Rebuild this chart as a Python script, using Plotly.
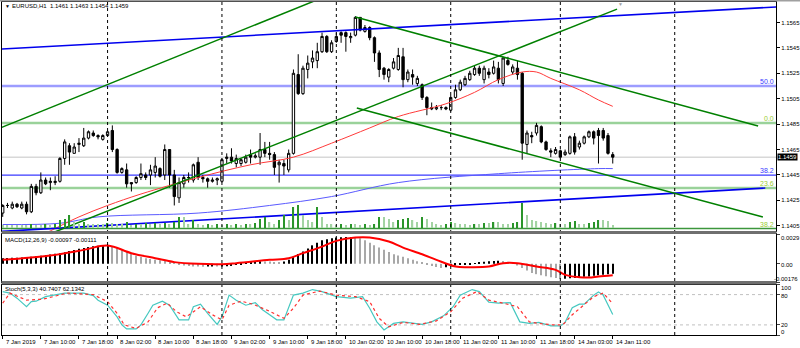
import plotly.graph_objects as go

W, H = 800, 348

# ---------------- EURUSD H1, bars from 7 Jan 2019 02:00 (bar index 0) ----------------
opens = [1.1415, 1.1421, 1.1419, 1.1422, 1.1419, 1.1422, 1.1416, 1.1436, 1.1431, 1.1441,
         1.1439, 1.1439, 1.1440, 1.1458, 1.1468, 1.1462, 1.1469, 1.1468, 1.1474, 1.1478,
         1.1476, 1.1473, 1.1476, 1.1480, 1.1465, 1.1447, 1.1449, 1.1439, 1.1439, 1.1443,
         1.1445, 1.1445, 1.1447, 1.1450, 1.1445, 1.1465, 1.1445, 1.1427, 1.1438, 1.1443,
         1.1441, 1.1455, 1.1443, 1.1442, 1.1440, 1.1441, 1.1440, 1.1458, 1.1459, 1.1454,
         1.1454, 1.1455, 1.1461, 1.1459, 1.1459, 1.1465, 1.1462, 1.1461, 1.1453, 1.1454,
         1.1449, 1.1462, 1.1524, 1.1509, 1.1528, 1.1534, 1.1535, 1.1542, 1.1554, 1.1542,
         1.1550, 1.1557, 1.1557, 1.1553, 1.1555, 1.1569, 1.1558, 1.1561, 1.1553, 1.1541,
         1.1529, 1.1522, 1.1529, 1.1528, 1.1538, 1.1520, 1.1524, 1.1517, 1.1516, 1.1506,
         1.1498, 1.1497, 1.1498, 1.1498, 1.1496, 1.1506, 1.1512, 1.1516, 1.1520, 1.1524,
         1.1529, 1.1520, 1.1526, 1.1525, 1.1529, 1.1517, 1.1535, 1.1526, 1.1529, 1.1525,
         1.1469, 1.1476, 1.1478, 1.1483, 1.1471, 1.1464, 1.1462, 1.1464, 1.1461, 1.1462,
         1.1475, 1.1467, 1.1470, 1.1475, 1.1479, 1.1480, 1.1480, 1.1476, 1.1461]
highs = [1.1422, 1.1423, 1.1424, 1.1423, 1.1424, 1.1424, 1.1438, 1.1438, 1.1447, 1.1443,
         1.1443, 1.1444, 1.1459, 1.1473, 1.1470, 1.1470, 1.1474, 1.1482, 1.1480, 1.1480,
         1.1477, 1.1477, 1.1480, 1.1484, 1.1466, 1.1451, 1.1454, 1.1439, 1.1444, 1.1454,
         1.1447, 1.1453, 1.1459, 1.1451, 1.1469, 1.1465, 1.1449, 1.1443, 1.1445, 1.1447,
         1.1454, 1.1459, 1.1445, 1.1443, 1.1443, 1.1443, 1.1458, 1.1462, 1.1466, 1.1461,
         1.1458, 1.1461, 1.1465, 1.1462, 1.1478, 1.1471, 1.1471, 1.1463, 1.1457, 1.1457,
         1.1465, 1.1528, 1.1540, 1.1531, 1.1539, 1.1543, 1.1549, 1.1557, 1.1555, 1.1551,
         1.1557, 1.1558, 1.1558, 1.1557, 1.1570, 1.1569, 1.1563, 1.1562, 1.1554, 1.1543,
         1.1530, 1.1529, 1.1537, 1.1545, 1.1545, 1.1528, 1.1528, 1.1523, 1.1517, 1.1507,
         1.1502, 1.1500, 1.1500, 1.1499, 1.1508, 1.1516, 1.1520, 1.1523, 1.1527, 1.1531,
         1.1531, 1.1531, 1.1529, 1.1535, 1.1534, 1.1538, 1.1538, 1.1532, 1.1535, 1.1526,
         1.1480, 1.1479, 1.1486, 1.1484, 1.1472, 1.1466, 1.1467, 1.1465, 1.1465, 1.1476,
         1.1478, 1.1472, 1.1476, 1.1480, 1.1480, 1.1482, 1.1482, 1.1478, 1.1463]
lows = [1.1412, 1.1419, 1.1418, 1.1419, 1.1418, 1.1414, 1.1415, 1.1429, 1.1430, 1.1437,
        1.1433, 1.1437, 1.1439, 1.1453, 1.1453, 1.1462, 1.1463, 1.1467, 1.1473, 1.1475,
        1.1473, 1.1472, 1.1475, 1.1463, 1.1446, 1.1446, 1.1435, 1.1432, 1.1438, 1.1441,
        1.1441, 1.1437, 1.1443, 1.1443, 1.1441, 1.1435, 1.1421, 1.1423, 1.1435, 1.1439,
        1.1439, 1.1441, 1.1439, 1.1435, 1.1439, 1.1437, 1.1439, 1.1454, 1.1454, 1.1451,
        1.1452, 1.1454, 1.1454, 1.1458, 1.1453, 1.1459, 1.1457, 1.1445, 1.1439, 1.1445,
        1.1447, 1.1461, 1.1508, 1.1508, 1.1521, 1.1529, 1.1529, 1.1541, 1.1541, 1.1541,
        1.1549, 1.1549, 1.1542, 1.1549, 1.1554, 1.1558, 1.1557, 1.1551, 1.1534, 1.1522,
        1.1520, 1.1518, 1.1528, 1.1527, 1.1514, 1.1518, 1.1516, 1.1515, 1.1504, 1.1492,
        1.1496, 1.1496, 1.1496, 1.1496, 1.1495, 1.1505, 1.1511, 1.1515, 1.1519, 1.1523,
        1.1523, 1.1517, 1.1521, 1.1524, 1.1517, 1.1515, 1.1531, 1.1524, 1.1520, 1.1457,
        1.1462, 1.1470, 1.1476, 1.1470, 1.1464, 1.1459, 1.1461, 1.1458, 1.1460, 1.1461,
        1.1461, 1.1465, 1.1469, 1.1474, 1.1469, 1.1454, 1.1472, 1.1461, 1.1454]
closes = [1.1421, 1.1421, 1.1422, 1.1420, 1.1422, 1.1416, 1.1436, 1.1431, 1.1441, 1.1438,
          1.1440, 1.1440, 1.1458, 1.1471, 1.1463, 1.1467, 1.1470, 1.1474, 1.1479, 1.1476,
          1.1475, 1.1476, 1.1479, 1.1465, 1.1447, 1.1450, 1.1438, 1.1438, 1.1443, 1.1446,
          1.1443, 1.1449, 1.1452, 1.1444, 1.1465, 1.1445, 1.1428, 1.1439, 1.1443, 1.1443,
          1.1453, 1.1443, 1.1442, 1.1440, 1.1441, 1.1442, 1.1457, 1.1459, 1.1456, 1.1458,
          1.1457, 1.1459, 1.1459, 1.1460, 1.1465, 1.1462, 1.1461, 1.1451, 1.1455, 1.1452,
          1.1462, 1.1525, 1.1509, 1.1529, 1.1533, 1.1537, 1.1542, 1.1554, 1.1542, 1.1549,
          1.1554, 1.1555, 1.1554, 1.1554, 1.1569, 1.1559, 1.1561, 1.1553, 1.1541, 1.1528,
          1.1524, 1.1528, 1.1534, 1.1539, 1.1520, 1.1526, 1.1522, 1.1521, 1.1506, 1.1498,
          1.1497, 1.1498, 1.1498, 1.1497, 1.1506, 1.1512, 1.1518, 1.1521, 1.1525, 1.1529,
          1.1525, 1.1529, 1.1524, 1.1530, 1.1520, 1.1537, 1.1532, 1.1530, 1.1524, 1.1470,
          1.1478, 1.1475, 1.1484, 1.1471, 1.1465, 1.1463, 1.1465, 1.1459, 1.1463, 1.1475,
          1.1463, 1.1470, 1.1475, 1.1479, 1.1474, 1.1476, 1.1474, 1.1462, 1.1459]
# tick volumes
volumes = [300, 300, 300, 300, 300, 300, 400, 300, 300, 400, 300, 400,
           800, 900, 1300, 600, 400, 600, 400, 400, 400, 400, 500,
           500, 400, 400, 600, 300, 400, 400, 500, 400, 500, 400, 500, 400, 600,
           1100, 1100, 400, 800,
           400, 300, 400, 300, 400, 300, 400, 300, 400, 300, 400, 400, 500,
           900, 1100, 600, 400, 800, 1300, 800, 2100, 2300, 1300, 800, 600, 2100, 1100, 400,
           400, 300, 400, 300, 400, 400, 300, 400, 300, 400, 1100, 1100, 900, 600, 800,
           900, 1000, 800, 600, 1100, 900, 600, 400, 300, 400, 600, 500, 400, 400, 300,
           400, 400, 500, 500, 600, 600, 400, 400, 500, 600,
           2500, 1300, 800, 700, 600, 500, 400, 500, 400, 400, 600, 700, 400, 400, 500,
           600, 800, 800, 700, 300]

# moving averages (bar index, price)
ma_red_bars = [0, 10, 16, 22, 29, 41, 52, 61, 69, 77, 83, 93, 99, 104, 109, 112, 115, 121, 125, 128]
ma_red_vals = [1.1382, 1.1401, 1.1412, 1.1421, 1.1430, 1.1443, 1.1453, 1.1459, 1.1470, 1.1482,
               1.1491, 1.1501, 1.1510, 1.1520, 1.1526, 1.1526, 1.1521, 1.1512, 1.1504, 1.1499]
ma_blue_bars = [0, 12, 20, 41, 56, 69, 83, 104, 125, 128]
ma_blue_vals = [1.1406, 1.1407, 1.1412, 1.1415, 1.1421, 1.1428, 1.1439, 1.1446, 1.1450, 1.1450]

# MACD(12,26,9), values in units of 1e-5
macd_main = [55, 57, 59, 60, 62, 66, 70, 74, 80, 86, 92, 98, 104, 114, 124, 135, 146, 155, 163, 170,
             175, 177, 178, 172, 158, 142, 126, 104, 80, 66, 55, 47, 40, 34, 28, 14, 2, -8, -15, -20,
             -25, -26, -27, -26, -25, -26, -25, -22, -20, -12, -5, 5, 15, 20, 25, 24, 22, 18, 16, 22,
             40, 70, 95, 120, 150, 180, 205, 230, 240, 248, 255, 258, 260, 261, 260, 248, 230, 205, 180, 158,
             136, 115, 94, 82, 70, 55, 40, 25, 10, -5, -20, -30, -40, -32, -22, -16, -12, -8, -2, 6,
             14, 20, 25, 28, 30, 27, 20, 5, -15, -40, -65, -88, -100, -110, -120, -130, -138, -146, -144, -140,
             -136, -130, -126, -122, -116, -110, -105, -100, -97]
macd_sig_bars = [0, 10, 17, 22, 27, 32, 36, 41, 46, 49, 56, 60, 63, 67, 70, 74, 77, 81, 84, 88,
                 91, 95, 98, 102, 105, 108, 112, 116, 118, 121, 123, 125, 128]
macd_sig_vals = [39, 81, 136, 178, 104, 55, 17, 0, -3, 7, 39, 55, 104, 168, 223, 255, 255, 217, 158, 94,
                 39, -26, -32, -26, 7, 7, -26, -58, -107, -129, -133, -123, -111]

# Stochastic(5,3,3)
stoch_main_bars = [0, 1.5, 3, 5, 6, 7, 9, 11, 13, 15, 17, 19, 20, 22, 24, 25, 26, 28, 29, 30.5,
                   31.5, 33.5, 35, 37, 39, 40, 41.5, 43, 45, 46, 47.5, 49, 51, 53, 54.5, 56, 57.5, 59, 61, 63,
                   65, 67, 70, 73, 75.5, 77, 78.5, 80, 82, 84, 86, 88, 90, 92.5, 94.5, 96, 98.5, 100, 102, 104,
                   106.5, 108.5, 110.5, 112.5, 115, 117, 118, 119.5, 121, 122, 124, 125, 126, 128]
stoch_main_vals = [86, 83, 73, 56, 66, 67, 76, 79, 83, 83, 83, 78, 69, 59, 36, 20, 12, 12, 20, 43,
                   59, 67, 59, 30, 30, 56, 61, 43, 21, 36, 79, 69, 59, 64, 50, 40, 30, 30, 79, 83,
                   90, 86, 76, 73, 76, 53, 26, 10, 23, 26, 23, 21, 26, 38, 56, 79, 90, 86, 65, 63,
                   64, 26, 23, 25, 18, 18, 25, 54, 61, 61, 79, 85, 79, 40.7407]
stoch_sig_bars = [0, 1.5, 5, 8.5, 13.5, 19, 22, 24, 25.5, 28, 30.5, 32.5, 34.5, 36.5, 38.5, 41.5, 44, 46, 47.5, 50,
                  52.5, 56, 59, 61, 63, 66.5, 70, 74, 77, 79, 81, 84, 87.5, 91, 94, 96.5, 99.5, 102, 105, 108,
                  110.5, 112.5, 115.5, 117.5, 119.5, 122, 124, 126, 128]
stoch_sig_vals = [63, 83, 69, 71, 83, 80, 66, 43, 20, 13, 26, 54, 63, 46, 36, 56, 40, 30, 59, 67,
                  61, 47, 33, 53, 79, 87, 79, 76, 66, 33, 16, 25, 21, 28, 46, 73, 86, 69, 63, 56,
                  26, 23, 20, 20, 40, 59, 76, 83, 62.1342]

# drawn objects: trend lines as (bar, price) endpoint pairs
blue_trend_bars = [[-1, 163], [-1, 160]]
blue_trend_prices = [[1.15440, 1.15773], [1.14004, 1.14347]]
green_trend_bars = [[-1, 70], [10, 128.9], [74, 158.5], [74.3, 159.5]]
green_trend_prices = [[1.14813, 1.15889], [1.13988, 1.15755], [1.15693, 1.14835], [1.14977, 1.14119]]

# Fibonacci levels (price, label)
fib_blue = [(1.15150, "50.0"), (1.14449, "38.2")]
fib_green = [(1.14859, "0.0"), (1.14347, "23.6"), (1.14028, "38.2")]
last_price = 1.1459

price_ticks = [1.1405, 1.1425, 1.1445, 1.1465, 1.1485, 1.1505, 1.1525, 1.1545, 1.1565]
time_ticks = [0, 8, 16, 24, 32, 40, 48, 56, 64, 72, 80, 88, 96, 104, 112, 120, 128]
time_labels = ["7 Jan 2019", "7 Jan 10:00", "7 Jan 18:00", "8 Jan 02:00", "8 Jan 10:00",
               "8 Jan 18:00", "9 Jan 02:00", "9 Jan 10:00", "9 Jan 18:00", "10 Jan 02:00",
               "10 Jan 10:00", "10 Jan 18:00", "11 Jan 02:00", "11 Jan 10:00", "11 Jan 18:00",
               "14 Jan 03:00", "14 Jan 11:00"]
day_breaks = [22, 46, 70, 94, 117, 141]

# ---------------- layout helpers (pixel -> paper) ----------------
def px(x):
    return x / W

def py(y):
    return 1 - y / H

FONT = "Liberation Sans, Arial, sans-serif"
FS = 6
X_RANGE = [-0.15, 162.25]
X_DOM = [px(2), px(776)]
MAIN_DOM = [py(231), py(2)]
MACD_DOM = [py(282), py(234)]
STOCH_DOM = [py(335), py(284.5)]
MAIN_RANGE = [1.14009, 1.15811]

bars = list(range(len(closes)))
fig = go.Figure()

# volume histogram at the bottom of the price window
vol_colors = ["#2a952a" if i > 0 and volumes[i] > volumes[i - 1] else "#a3d3a3" for i in bars]
fig.add_trace(go.Bar(x=bars, y=volumes, width=0.26, marker=dict(color=vol_colors, line=dict(width=0)),
                     xaxis="x", yaxis="y2", hoverinfo="skip", showlegend=False))

# moving averages
fig.add_trace(go.Scatter(x=ma_blue_bars, y=ma_blue_vals, mode="lines", line=dict(color="#5a5aff", width=1, shape="spline"),
                         xaxis="x", yaxis="y", hoverinfo="skip", showlegend=False))
fig.add_trace(go.Scatter(x=ma_red_bars, y=ma_red_vals, mode="lines", line=dict(color="#ff3a3a", width=1, shape="spline"),
                         xaxis="x", yaxis="y", hoverinfo="skip", showlegend=False))

# trend lines
for b, p in zip(blue_trend_bars, blue_trend_prices):
    fig.add_trace(go.Scatter(x=b, y=p, mode="lines", line=dict(color="#0000ee", width=1.6),
                             xaxis="x", yaxis="y", hoverinfo="skip", showlegend=False))
for b, p in zip(green_trend_bars, green_trend_prices):
    fig.add_trace(go.Scatter(x=b, y=p, mode="lines", line=dict(color="#008000", width=1.5),
                             xaxis="x", yaxis="y", hoverinfo="skip", showlegend=False))

# candles
fig.add_trace(go.Candlestick(
    x=bars, open=opens, high=highs, low=lows, close=closes,
    increasing=dict(line=dict(color="#000000", width=1), fillcolor="#ffffff"),
    decreasing=dict(line=dict(color="#000000", width=1), fillcolor="#000000"),
    whiskerwidth=0, xaxis="x", yaxis="y", hoverinfo="skip", showlegend=False))

# MACD window
macd_vals = [v * 1e-5 for v in macd_main]
macd_colors = ["#000000" if i == 0 or macd_main[i] >= macd_main[i - 1] else "#a8a8a8" for i in bars]
fig.add_trace(go.Bar(x=bars, y=macd_vals, width=0.22, marker=dict(color=macd_colors, line=dict(width=0)),
                     xaxis="x2", yaxis="y3", hoverinfo="skip", showlegend=False))
fig.add_trace(go.Scatter(x=macd_sig_bars, y=[v * 1e-5 for v in macd_sig_vals], mode="lines",
                         line=dict(color="#ff0000", width=2, shape="spline"),
                         xaxis="x2", yaxis="y3", hoverinfo="skip", showlegend=False))

# Stochastic window
fig.add_trace(go.Scatter(x=stoch_main_bars, y=stoch_main_vals, mode="lines",
                         line=dict(color="#46c8c0", width=1.2),
                         xaxis="x3", yaxis="y4", hoverinfo="skip", showlegend=False))
fig.add_trace(go.Scatter(x=stoch_sig_bars, y=stoch_sig_vals, mode="lines",
                         line=dict(color="#ff3030", width=1.2, dash="dot"),
                         xaxis="x3", yaxis="y4", hoverinfo="skip", showlegend=False))

shapes = []
# horizontal levels
for lvl, lab in fib_blue:
    wide = lab == "50.0"
    shapes.append(dict(type="line", xref="x domain", yref="y", x0=0, x1=1, y0=lvl, y1=lvl,
                       line=dict(color="#9c9cff" if wide else "#3a3aff", width=2.5 if wide else 1.2), layer="below"))
for lvl, lab in fib_green:
    bottom = lab == "38.2"
    shapes.append(dict(type="line", xref="x domain", yref="y", x0=0, x1=1, y0=lvl, y1=lvl,
                       line=dict(color="#3c963c" if bottom else "#9ad29a", width=1.5 if bottom else 2.5), layer="below"))
shapes.append(dict(type="line", xref="x domain", yref="y", x0=0, x1=1, y0=last_price, y1=last_price,
                   line=dict(color="#c4c4c4", width=1), layer="below"))
# stochastic 20/80 levels
for lvl in (20, 80):
    shapes.append(dict(type="line", xref="x3 domain", yref="y4", x0=0, x1=1, y0=lvl, y1=lvl,
                       line=dict(color="#c0c0c0", width=1, dash="dot"), layer="below"))
# day separators through all windows
for b in day_breaks:
    shapes.append(dict(type="line", xref="x", yref="paper", x0=b, x1=b, y0=py(335), y1=py(2),
                       line=dict(color="#000000", width=1, dash="dot"), layer="above"))
# window separators and top border
for y0, y1 in ((231, 234), (281, 284.5)):
    shapes.append(dict(type="rect", xref="paper", yref="paper", x0=px(1.5), x1=px(776.5), y0=py(y1), y1=py(y0),
                       fillcolor="#6f6f6f", line=dict(width=0), layer="above"))
shapes.append(dict(type="rect", xref="paper", yref="paper", x0=0, x1=1, y0=py(1.5), y1=1,
                   fillcolor="#a0a0a0", line=dict(width=0), layer="above"))

ann = []
def label(x, y, text, color="#000000", xanchor="left", xref="paper", yref="paper", size=FS, **kw):
    ann.append(dict(x=x, y=y, xref=xref, yref=yref, text=text, showarrow=False, xanchor=xanchor,
                    yanchor=kw.pop("yanchor", "middle"), font=dict(family=FONT, size=size, color=color), **kw))

# headers
label(px(3), py(6), "▼", size=5)
label(px(10), py(6.5), "EURUSD,H1  1.1461 1.1463 1.1454 1.1459")
label(px(3), py(239.5), "MACD(12,26,9) -0.00097 -0.00111")
label(px(3), py(288.5), "Stoch(5,3,3) 40.7407 62.1342")
label(px(620), py(3.5), "▼", color="#a0a0a0", xanchor="center", size=5)

# Fibonacci labels at the right edge
for lvl, lab in fib_blue:
    label(1, lvl, lab, color="#3a3aff", xanchor="right", xref="x domain", yref="y", yanchor="bottom",
          yshift=-1, size=7)
for lvl, lab in fib_green:
    label(1, lvl, lab, color="#9acd32", xanchor="right", xref="x domain", yref="y", yanchor="bottom",
          yshift=-1, size=7)

# time labels
for b, t in zip(time_ticks, time_labels):
    label(b, py(341.5), t, xref="x", xshift=1)

# indicator scale labels
for y, t in ((237.5, "0.0029"), (264.5, "0.00"), (287.5, "100"), (295.5, "80"),
             (324.5, "20"), (331.5, "0")):
    label(px(779), py(y), t)
label(px(799.5), py(278.5), "-0.00176", xanchor="right")

# current price box
label(px(777), last_price, "1.1459", color="#ffffff", yref="y", bgcolor="#000000", borderpad=0)

fig.update_layout(
    width=W, height=H, margin=dict(l=0, r=0, t=0, b=0),
    paper_bgcolor="#ffffff", plot_bgcolor="#ffffff",
    showlegend=False, shapes=shapes, annotations=ann,
    font=dict(family=FONT, size=FS, color="#000000"),
    xaxis=dict(domain=X_DOM, range=X_RANGE, anchor="y", showticklabels=False, showgrid=False, zeroline=False,
               showline=True, mirror=True, linecolor="#000000", linewidth=1, ticks="",
               rangeslider=dict(visible=False), fixedrange=True),
    xaxis2=dict(domain=X_DOM, range=X_RANGE, anchor="y3", matches="x", showticklabels=False, showgrid=False,
                zeroline=False, showline=True, mirror=True, linecolor="#000000", linewidth=1, ticks=""),
    xaxis3=dict(domain=X_DOM, range=X_RANGE, anchor="y4", matches="x", showticklabels=False, showgrid=False,
                zeroline=False, showline=True, mirror=True, linecolor="#000000", linewidth=1,
                tickmode="array", tickvals=time_ticks, ticks="outside", ticklen=3, tickcolor="#000000"),
    yaxis=dict(domain=MAIN_DOM, range=MAIN_RANGE, anchor="x", side="right", showgrid=False, zeroline=False,
               showline=True, mirror=True, linecolor="#000000", linewidth=1,
               tickmode="array", tickvals=price_ticks, ticktext=[f"{p:.4f}" for p in price_ticks],
               ticks="outside", ticklen=3, tickcolor="#000000", tickfont=dict(family=FONT, size=FS)),
    yaxis2=dict(overlaying="y", range=[-300, 22600], visible=False, anchor="x"),
    yaxis3=dict(domain=MACD_DOM, range=[-0.00176, 0.0029], anchor="x2", side="right", showgrid=False,
                zeroline=False, showline=True, mirror=True, linecolor="#000000", linewidth=1,
                tickmode="array", tickvals=[0.0029, 0, -0.00176], ticks="outside", ticklen=3,
                showticklabels=False),
    yaxis4=dict(domain=STOCH_DOM, range=[0, 100], anchor="x3", side="right", showgrid=False, zeroline=False,
                showline=True, mirror=True, linecolor="#000000", linewidth=1,
                tickmode="array", tickvals=[100, 80, 20, 0], ticks="outside", ticklen=3, showticklabels=False),
)

fig.write_html("out.html")
